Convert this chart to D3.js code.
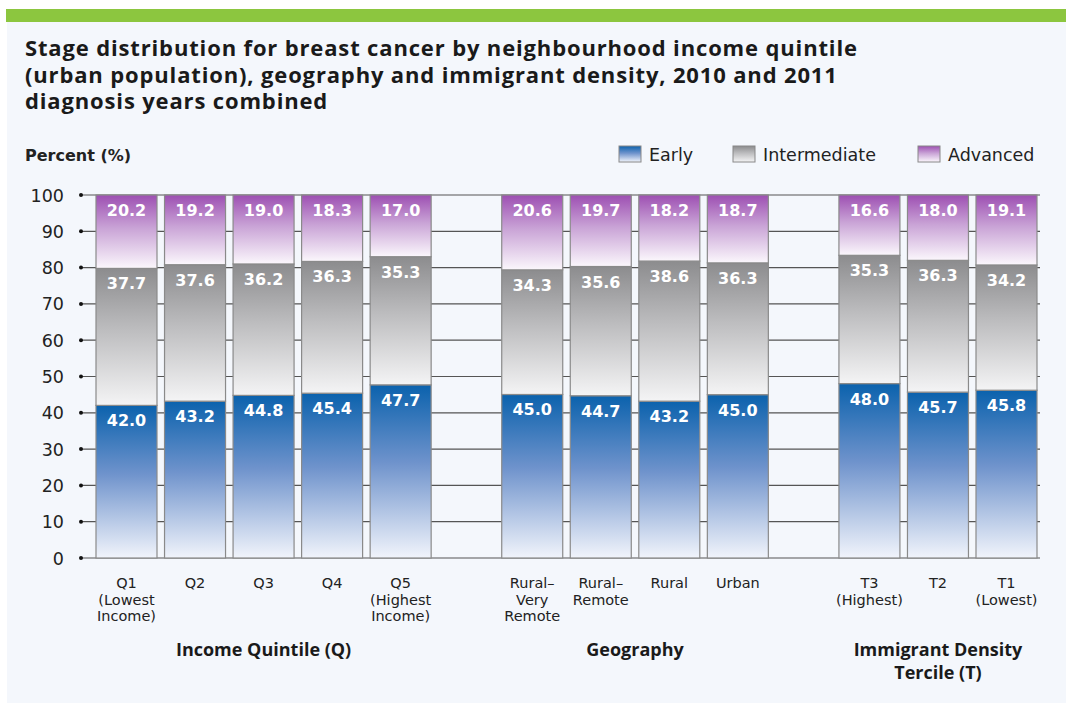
<!DOCTYPE html>
<html><head><meta charset="utf-8">
<script src="https://cdn.jsdelivr.net/npm/d3@7/dist/d3.min.js"></script>
<style>
html,body{margin:0;padding:0;background:#fff;}
svg{display:block;}
</style></head>
<body>
<script>
// ---- data ----
const categories = ["Q1","Q2","Q3","Q4","Q5","RVR","RR","Rural","Urban","T3","T2","T1"];
const categoryLabels = [
  ["Q1","(Lowest","Income)"],["Q2"],["Q3"],["Q4"],["Q5","(Highest","Income)"],
  ["Rural–","Very","Remote"],["Rural–","Remote"],["Rural"],["Urban"],
  ["T3","(Highest)"],["T2"],["T1","(Lowest)"]
];
const groupOf = [0,0,0,0,0,1,1,1,1,2,2,2];
const groupNames = [["Income Quintile (Q)"],["Geography"],["Immigrant Density","Tercile (T)"]];
const early        = [42.0,43.2,44.8,45.4,47.7,45.0,44.7,43.2,45.0,48.0,45.7,45.8];
const intermediate = [37.7,37.6,36.2,36.3,35.3,34.3,35.6,38.6,36.3,35.3,36.3,34.2];
const advanced     = [20.2,19.2,19.0,18.3,17.0,20.6,19.7,18.2,18.7,16.6,18.0,19.1];
const seriesNames = ["Early","Intermediate","Advanced"];
const yTicks = [0,10,20,30,40,50,60,70,80,90,100];

// ---- layout ----
const W = 1066, H = 703;
const svg = d3.select("body").append("svg").attr("width", W).attr("height", H);

const defs = svg.append("defs");
const grads = [
  {id:"gEarly", top:"#0b62ad", mid:"#6f93cc", bot:"#f1f4fb"},
  {id:"gInter", top:"#8c8c8e", mid:"#bdbdbf", bot:"#f4f4f5"},
  {id:"gAdv",   top:"#9d4fb2", mid:"#c9a3d6", bot:"#fbf7fc"}
];
grads.forEach(g=>{
  const lg = defs.append("linearGradient").attr("id",g.id).attr("x1",0).attr("y1",0).attr("x2",0).attr("y2",1);
  lg.append("stop").attr("offset","0%").attr("stop-color",g.top);
  lg.append("stop").attr("offset","45%").attr("stop-color",g.mid);
  lg.append("stop").attr("offset","100%").attr("stop-color",g.bot);
});

// background panel
svg.append("rect").attr("x",7).attr("y",22).attr("width",W-7).attr("height",H-22).attr("fill","#f4f7fc");
svg.append("rect").attr("x",6).attr("y",9).attr("width",W-6).attr("height",13).attr("fill","#8cc63f");

// title
const title = ["Stage distribution for breast cancer by neighbourhood income quintile",
               "(urban population), geography and immigrant density, 2010 and 2011",
               "diagnosis years combined"];
svg.append("g").selectAll("text").data(title).join("text")
  .attr("x",25).attr("y",(d,i)=>56+i*26.5)
  .attr("font-family","Open Sans").attr("font-weight","bold").attr("font-size",22)
  .attr("letter-spacing",0.85)
  .attr("fill","#1a1a1a").text(d=>d);

// y label
svg.append("text").attr("x",25).attr("y",161).attr("font-family","DejaVu Sans")
  .attr("font-weight","bold").attr("font-size",16).attr("fill","#222").text("Percent (%)");

// legend
const legendX = [619, 733, 918];
const lg = svg.append("g").selectAll("g").data(seriesNames).join("g")
  .attr("transform",(d,i)=>`translate(${legendX[i]},146)`);
lg.append("rect").attr("width",22).attr("height",16).attr("fill",(d,i)=>`url(#${grads[i].id})`)
  .attr("stroke","#888").attr("stroke-width",1);
lg.append("text").attr("x",30).attr("y",14.5).attr("font-family","DejaVu Sans").attr("font-size",17.5)
  .attr("fill","#222").text(d=>d);

// scales
const y = d3.scaleLinear().domain([0,100]).range([558,195]);
const yFrac = d3.scaleLinear().domain([0,1]).range([558,195]);
const gapSlots = 0.92;
const slotIndex = categories.map((c,i)=>i + groupOf[i]*gapSlots);
const x = d3.scaleLinear().domain([0, d3.max(slotIndex)]).range([126.5, 1006.5]);
const barW = 61;

// y axis ticks & grid
const axisG = svg.append("g");
axisG.selectAll("line").data(yTicks).join("line")
  .attr("x1",81).attr("x2",1040).attr("y1",d=>y(d)).attr("y2",d=>y(d))
  .attr("stroke","#555").attr("stroke-width",1.2);
axisG.selectAll("circle").data(yTicks).join("circle")
  .attr("cx",81).attr("cy",d=>y(d)).attr("r",2).attr("fill","#111");
axisG.selectAll("text").data(yTicks).join("text")
  .attr("x",64).attr("y",d=>y(d)+6.5).attr("text-anchor","end")
  .attr("font-family","DejaVu Sans").attr("font-size",17.5).attr("fill","#222").text(d=>d);

// stacked data (percent shares, normalised so each bar fills 100%)
const rows = categories.map((c,i)=>({cat:c, i, Early:early[i], Intermediate:intermediate[i], Advanced:advanced[i]}));
const stack = d3.stack().keys(seriesNames).offset(d3.stackOffsetExpand)(rows);

const barsG = svg.append("g");
stack.forEach((layer,k)=>{
  const g = barsG.append("g");
  g.selectAll("rect").data(layer).join("rect")
    .attr("x",d=>x(slotIndex[d.data.i])-barW/2)
    .attr("y",d=>yFrac(d[1]))
    .attr("width",barW)
    .attr("height",d=>yFrac(d[0])-yFrac(d[1]))
    .attr("fill",`url(#${grads[k].id})`)
    .attr("stroke","#8a8a8a").attr("stroke-width",1.2);
  g.selectAll("text").data(layer).join("text")
    .attr("x",d=>x(slotIndex[d.data.i]))
    .attr("y",d=>yFrac(d[1])+21)
    .attr("text-anchor","middle")
    .attr("font-family","DejaVu Sans").attr("font-weight","bold").attr("font-size",16)
    .attr("fill","#fff").text(d=>d.data[layer.key].toFixed(1));
});

// category labels
const catG = svg.append("g");
categoryLabels.forEach((lines,i)=>{
  const t = catG.append("text").attr("x",x(slotIndex[i])).attr("y",588)
    .attr("text-anchor","middle").attr("font-family","DejaVu Sans").attr("font-size",14.5).attr("fill","#222");
  lines.forEach((ln,j)=>t.append("tspan").attr("x",x(slotIndex[i])).attr("dy",j?16.5:0).text(ln));
});

// group labels
groupNames.forEach((lines,gi)=>{
  const idx = slotIndex.filter((s,i)=>groupOf[i]===gi);
  const cx = (x(d3.min(idx))+x(d3.max(idx)))/2;
  const t = svg.append("text").attr("x",cx).attr("y",656).attr("text-anchor","middle")
    .attr("font-family","Open Sans").attr("font-weight","bold").attr("font-size",18).attr("fill","#1a1a1a");
  lines.forEach((ln,j)=>t.append("tspan").attr("x",cx).attr("dy",j?23:0).text(ln));
});
</script>
</body></html>
